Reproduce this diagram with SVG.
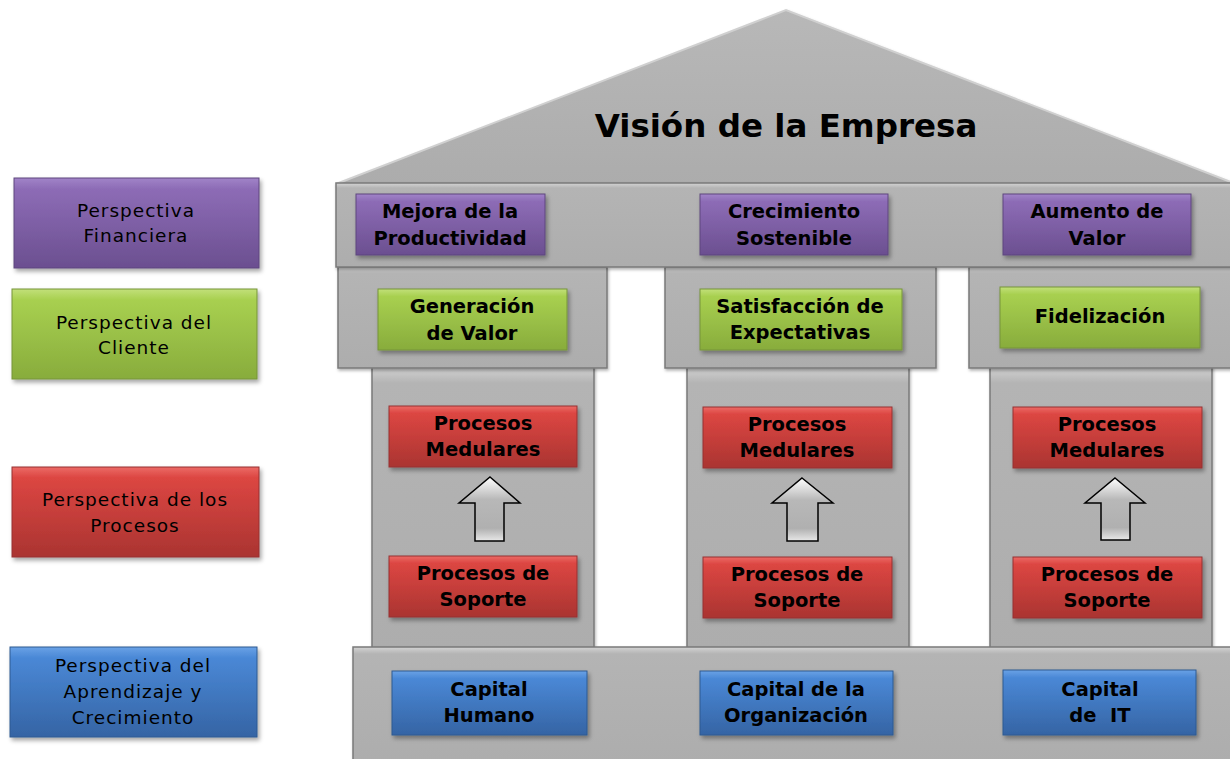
<svg xmlns="http://www.w3.org/2000/svg" width="1230" height="759" viewBox="0 0 1230 759">
<defs>
  <linearGradient id="gPurple" x1="0" y1="0" x2="0" y2="1">
    <stop offset="0" stop-color="#a184c8"/>
    <stop offset="0.12" stop-color="#8d6cb6"/>
    <stop offset="1" stop-color="#6b4f90"/>
  </linearGradient>
  <linearGradient id="gGreen" x1="0" y1="0" x2="0" y2="1">
    <stop offset="0" stop-color="#c2e07a"/>
    <stop offset="0.12" stop-color="#a8d050"/>
    <stop offset="1" stop-color="#88ac3c"/>
  </linearGradient>
  <linearGradient id="gRed" x1="0" y1="0" x2="0" y2="1">
    <stop offset="0" stop-color="#ec6a66"/>
    <stop offset="0.12" stop-color="#dc4642"/>
    <stop offset="1" stop-color="#aa3431"/>
  </linearGradient>
  <linearGradient id="gBlue" x1="0" y1="0" x2="0" y2="1">
    <stop offset="0" stop-color="#6aa2e6"/>
    <stop offset="0.12" stop-color="#4a88d6"/>
    <stop offset="1" stop-color="#3564a4"/>
  </linearGradient>
  <linearGradient id="gGray" x1="0" y1="0" x2="0" y2="1">
    <stop offset="0" stop-color="#d4d4d4"/>
    <stop offset="0.06" stop-color="#b4b4b4"/>
    <stop offset="1" stop-color="#adadad"/>
  </linearGradient>
  <linearGradient id="gRoof" x1="0" y1="0" x2="0" y2="1">
    <stop offset="0" stop-color="#b8b8b8"/>
    <stop offset="1" stop-color="#acacac"/>
  </linearGradient>
  <linearGradient id="gArrow" x1="0" y1="0" x2="0" y2="1">
    <stop offset="0" stop-color="#ffffff"/>
    <stop offset="0.35" stop-color="#b8b8b8"/>
    <stop offset="0.8" stop-color="#b0b0b0"/>
    <stop offset="1" stop-color="#e8e8e8"/>
  </linearGradient>
  <filter id="shadow" x="-10%" y="-20%" width="125%" height="150%">
    <feDropShadow dx="2" dy="3" stdDeviation="2" flood-color="#000" flood-opacity="0.35"/>
  </filter>
  <filter id="shadowS" x="-10%" y="-10%" width="125%" height="130%">
    <feDropShadow dx="1" dy="2" stdDeviation="1.5" flood-color="#000" flood-opacity="0.3"/>
  </filter>
</defs>
<style>
  .struct { fill: url(#gGray); stroke: #7a7a7a; stroke-width: 1.5; filter: url(#shadowS); }
  .purple { fill: url(#gPurple); stroke: #5e467e; stroke-width: 1; filter: url(#shadow); }
  .green { fill: url(#gGreen); stroke: #76943a; stroke-width: 1; filter: url(#shadow); }
  .red { fill: url(#gRed); stroke: #963030; stroke-width: 1; filter: url(#shadow); }
  .blue { fill: url(#gBlue); stroke: #2e5a92; stroke-width: 1; filter: url(#shadow); }
  .lbl { font-family: "DejaVu Sans", "Liberation Sans", sans-serif; font-weight: bold; font-size: 19.5px; fill: #000; text-anchor: middle; }
  .leg { font-family: "DejaVu Sans", "Liberation Sans", sans-serif; font-size: 18.5px; letter-spacing: 1px; fill: #000; text-anchor: middle; }
  .title { font-family: "DejaVu Sans", "Liberation Sans", sans-serif; font-weight: bold; font-size: 32.5px; fill: #000; text-anchor: middle; }
  .arrow { fill: url(#gArrow); stroke: #000; stroke-width: 1.5; stroke-linejoin: miter; }
</style>

<!-- Legend -->
<g id="legend-financiera">
  <rect x="14" y="178" width="245" height="90" class="purple"/>
  <text class="leg" x="136" y="217">Perspectiva</text>
  <text class="leg" x="136" y="242">Financiera</text>
</g>
<g id="legend-cliente">
  <rect x="12" y="289" width="245" height="90" class="green"/>
  <text class="leg" x="134" y="329">Perspectiva del</text>
  <text class="leg" x="134" y="354">Cliente</text>
</g>
<g id="legend-procesos">
  <rect x="12" y="467" width="247" height="90" class="red"/>
  <text class="leg" x="135" y="506">Perspectiva de los</text>
  <text class="leg" x="135" y="532">Procesos</text>
</g>
<g id="legend-aprendizaje">
  <rect x="10" y="647" width="247" height="90" class="blue"/>
  <text class="leg" x="133" y="672">Perspectiva del</text>
  <text class="leg" x="133" y="698">Aprendizaje y</text>
  <text class="leg" x="133" y="724">Crecimiento</text>
</g>

<!-- Columns -->
<g id="column-left"><rect x="372" y="366" width="222" height="283" class="struct"/></g>
<g id="column-middle"><rect x="687" y="366" width="222" height="283" class="struct"/></g>
<g id="column-right"><rect x="990" y="366" width="222" height="283" class="struct"/></g>

<!-- Capitals -->
<g id="capital-left"><rect x="338" y="267" width="269" height="101" class="struct"/></g>
<g id="capital-middle"><rect x="665" y="267" width="271" height="101" class="struct"/></g>
<g id="capital-right"><rect x="969" y="267" width="265" height="101" class="struct"/></g>

<!-- Base -->
<g id="base"><rect x="353" y="647" width="880" height="115" class="struct"/></g>

<!-- Roof and entablature -->
<g id="roof">
  <polygon points="336,184 786,10 1236,184" fill="url(#gRoof)" stroke="#d0d0d0" stroke-width="2" filter="url(#shadowS)"/>
  <text class="title" x="786" y="137">Visión de la Empresa</text>
</g>
<g id="entablature"><rect x="336" y="183" width="898" height="84" class="struct"/></g>

<!-- Financial row -->
<g id="node-mejora">
  <rect x="356" y="194" width="189" height="61" class="purple"/>
  <text class="lbl" x="450" y="218">Mejora de la</text>
  <text class="lbl" x="450" y="245">Productividad</text>
</g>
<g id="node-crecimiento">
  <rect x="700" y="194" width="188" height="61" class="purple"/>
  <text class="lbl" x="794" y="218">Crecimiento</text>
  <text class="lbl" x="794" y="245">Sostenible</text>
</g>
<g id="node-aumento">
  <rect x="1003" y="194" width="188" height="61" class="purple"/>
  <text class="lbl" x="1097" y="218">Aumento de</text>
  <text class="lbl" x="1097" y="245">Valor</text>
</g>

<!-- Customer row -->
<g id="node-generacion">
  <rect x="378" y="289" width="189" height="61" class="green"/>
  <text class="lbl" x="472" y="313">Generación</text>
  <text class="lbl" x="472" y="340">de Valor</text>
</g>
<g id="node-satisfaccion">
  <rect x="700" y="289" width="202" height="61" class="green"/>
  <text class="lbl" x="800" y="313">Satisfacción de</text>
  <text class="lbl" x="800" y="339">Expectativas</text>
</g>
<g id="node-fidelizacion">
  <rect x="1000" y="287" width="200" height="61" class="green"/>
  <text class="lbl" x="1100" y="323">Fidelización</text>
</g>

<!-- Process row -->
<g id="node-medulares-1">
  <rect x="389" y="406" width="188" height="61" class="red"/>
  <text class="lbl" x="483" y="430">Procesos</text>
  <text class="lbl" x="483" y="456">Medulares</text>
</g>
<g id="node-soporte-1">
  <rect x="389" y="556" width="188" height="61" class="red"/>
  <text class="lbl" x="483" y="580">Procesos de</text>
  <text class="lbl" x="483" y="606">Soporte</text>
</g>
<g id="node-medulares-2">
  <rect x="703" y="407" width="189" height="61" class="red"/>
  <text class="lbl" x="797" y="431">Procesos</text>
  <text class="lbl" x="797" y="457">Medulares</text>
</g>
<g id="node-soporte-2">
  <rect x="703" y="557" width="189" height="61" class="red"/>
  <text class="lbl" x="797" y="581">Procesos de</text>
  <text class="lbl" x="797" y="607">Soporte</text>
</g>
<g id="node-medulares-3">
  <rect x="1013" y="407" width="189" height="61" class="red"/>
  <text class="lbl" x="1107" y="431">Procesos</text>
  <text class="lbl" x="1107" y="457">Medulares</text>
</g>
<g id="node-soporte-3">
  <rect x="1013" y="557" width="189" height="61" class="red"/>
  <text class="lbl" x="1107" y="581">Procesos de</text>
  <text class="lbl" x="1107" y="607">Soporte</text>
</g>

<!-- Learning row -->
<g id="node-capital-humano">
  <rect x="392" y="671" width="195" height="64" class="blue"/>
  <text class="lbl" x="489" y="696">Capital</text>
  <text class="lbl" x="489" y="722">Humano</text>
</g>
<g id="node-capital-organizacion">
  <rect x="700" y="671" width="193" height="64" class="blue"/>
  <text class="lbl" x="796" y="696">Capital de la</text>
  <text class="lbl" x="796" y="722">Organización</text>
</g>
<g id="node-capital-it">
  <rect x="1003" y="670" width="193" height="65" class="blue"/>
  <text class="lbl" x="1100" y="696">Capital</text>
  <text class="lbl" x="1100" y="722" xml:space="preserve">de  IT</text>
</g>

<!-- Connectors -->
<g id="connectors">
  <path class="arrow" d="M490,477 L520,503 L504,503 L504,541 L475,541 L475,503 L459,503 Z"/>
  <path class="arrow" d="M802,478 L833,503 L818,503 L818,541 L787,541 L787,503 L772,503 Z"/>
  <path class="arrow" d="M1115,478 L1145,503 L1130,503 L1130,540 L1101,540 L1101,503 L1085,503 Z"/>
</g>
</svg>
